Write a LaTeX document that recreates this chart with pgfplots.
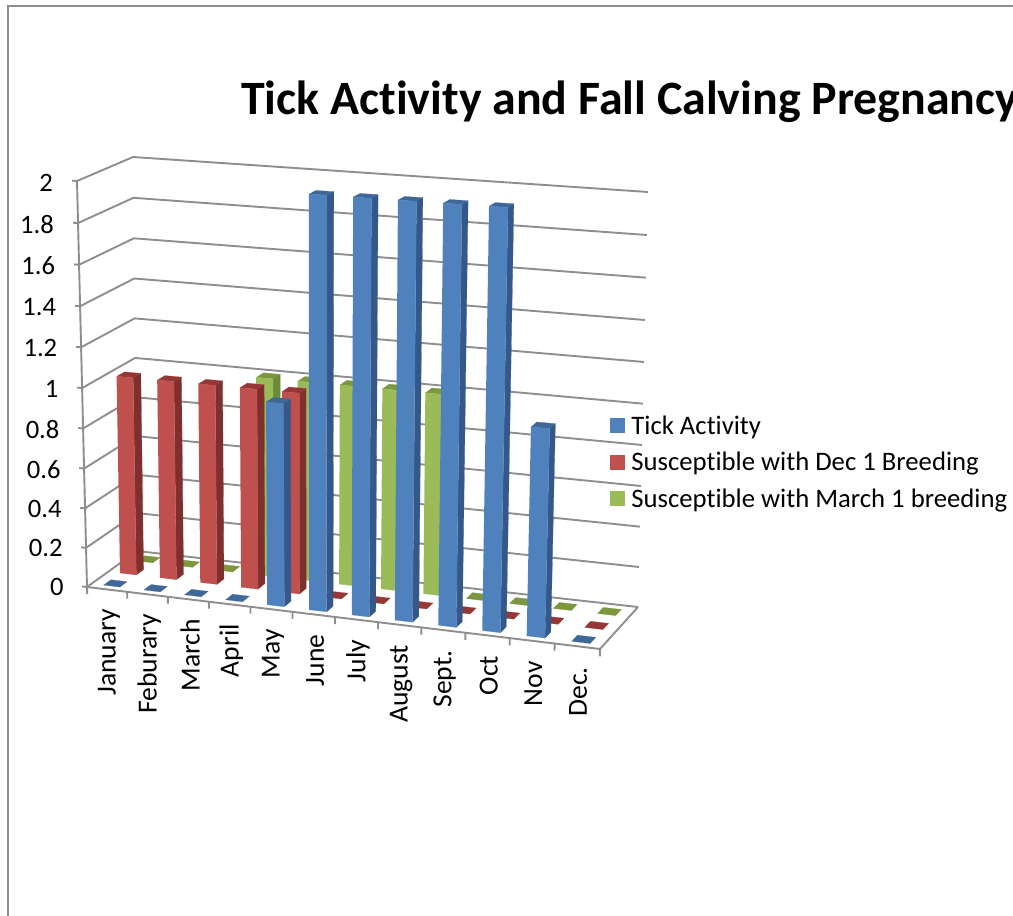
\documentclass[border=0pt]{standalone}
\usepackage{pgfplots}
\usepackage{pgfplotstable}
\usepackage{fontspec}
\setmainfont[Ligatures=CommonOff]{Carlito}
\pgfplotsset{compat=1.18}

\definecolor{gridc}{HTML}{8E8E8E}
\definecolor{blueF}{HTML}{4F81BD}
\definecolor{blueS}{HTML}{34588A}
\definecolor{blueT}{HTML}{3F6797}
\definecolor{redF}{HTML}{C0504D}
\definecolor{redS}{HTML}{7F302E}
\definecolor{redT}{HTML}{953735}
\definecolor{greenF}{HTML}{9BBB59}
\definecolor{greenS}{HTML}{6C8A38}
\definecolor{greenT}{HTML}{7B983F}

% values
\pgfplotstableread{
month tick dec march
January 0 1 0
Feburary 0 1 0
March 0 1 0
April 0 1 1
May 1 1 1
June 2 0 1
July 2 0 1
August 2 0 1
Sept. 2 0 0
Oct 2 0 0
Nov 1 0 0
Dec. 0 0 0
}\ticktable

% box corners in image pixels -> month (0..12), depth (0..3), value (0..2)
% the two warps stand in for the perspective of the original
\newcommand\proj[4]{%
  \pgfmathsetmacro\pu{#1/12}\pgfmathsetmacro\pv{#2/3}\pgfmathsetmacro\pw{#3/2}%
  \pgfmathsetmacro\pu{\pu+0.066*\pu*(\pu-1)}%
  \pgfmathsetmacro\pw{\pw+0.04*\pw*(\pw-1)}%
  \pgfmathsetmacro\fx{(1-\pv)*((1-\pu)*87+\pu*600)+\pv*((1-\pu)*137+\pu*638)}%
  \pgfmathsetmacro\fy{(1-\pv)*((1-\pu)*587+\pu*649)+\pv*((1-\pu)*551+\pu*607)}%
  \pgfmathsetmacro\tx{(1-\pv)*((1-\pu)*77+\pu*612)+\pv*((1-\pu)*133+\pu*648)}%
  \pgfmathsetmacro\ty{(1-\pv)*((1-\pu)*181+\pu*217)+\pv*((1-\pu)*157+\pu*192)}%
  \pgfmathsetmacro\rx{(1-\pw)*\fx+\pw*\tx}%
  \pgfmathsetmacro\ry{(1-\pw)*\fy+\pw*\ty}%
  \expandafter\xdef\csname #4\endcsname{(\rx,\ry)}%
}
\newcommand\poly[2]{% colour, coordinates
  \edef\tmp{\noexpand\addplot[fill=#1,draw=#1,line width=.2pt,forget plot] coordinates {#2};}\tmp
}
\newcommand\gline[2]{% coordinates, width
  \edef\tmp{\noexpand\addplot[gridc,line width=#2,forget plot] coordinates {#1};}\tmp
}
\newcommand\drawbar[6]{% month, depth, value, front, side, top
  \pgfmathsetmacro\xa{#1+0.295}\pgfmathsetmacro\xb{#1+0.705}%
  \pgfmathsetmacro\ya{#2-0.22}\pgfmathsetmacro\yb{#2+0.22}%
  \proj{\xa}{\ya}{#3}{Aa}\proj{\xb}{\ya}{#3}{Ba}\proj{\xb}{\yb}{#3}{Ca}\proj{\xa}{\yb}{#3}{Da}%
  \ifdim#3pt>0pt
    \proj{\xa}{\ya}{0}{Ao}\proj{\xb}{\ya}{0}{Bo}\proj{\xb}{\yb}{0}{Co}%
    \poly{#5}{\Bo\Co\Ca\Ba}%
    \poly{#6}{\Aa\Ba\Ca\Da}%
    \poly{#4}{\Ao\Bo\Ba\Aa}%
  \else
    \poly{#6}{\Aa\Ba\Ca\Da}%
  \fi
}
\newcommand\drawseries[5]{% column, depth, front, side, top
  \pgfplotsinvokeforeach{0,...,11}{%
    \pgfplotstablegetelem{##1}{#1}\of\ticktable
    \let\barval\pgfplotsretval
    \drawbar{##1}{#2}{\barval}{#3}{#4}{#5}%
  }%
}

\begin{document}
\begin{tikzpicture}[x=1pt,y=1pt]
\useasboundingbox (0,0) rectangle (1013,916);
\clip (0,0) rectangle (1013,916);
\begin{axis}[
  at={(0,0)},anchor=south west,
  scale only axis,width=1013pt,height=916pt,
  xmin=0,xmax=1013,ymin=0,ymax=916,y dir=reverse,
  hide axis,clip=false,
  legend style={at={(axis cs:607,412.5)},anchor=north west,draw=none,fill=none,
    font=\fontsize{26.7}{30}\selectfont,row sep=14.5pt,
    nodes={inner xsep=3pt,inner ysep=1pt}},
  legend cell align=left,
  legend image code/.code={\path[#1,draw=none] (0pt,-7.5pt) rectangle (15pt,7.5pt);\path (18pt,0pt);},
]
% frame of the chart area
\addplot[gridc,line width=2pt,forget plot] coordinates {(7.5,916) (7.5,5.5) (1013,5.5)};

% back wall and left wall lines, value ticks with their labels
\pgfplotsinvokeforeach{0,0.2,0.4,0.6,0.8,1,1.2,1.4,1.6,1.8,2}{%
  \proj{-0.12}{0}{#1}{Pa}\proj{0}{0}{#1}{Pb}\proj{0}{3}{#1}{Pc}\proj{12}{3}{#1}{Pd}%
  \gline{\Pa\Pb\Pc\Pd}{1.9pt}%
  \proj{-0.58}{0}{#1}{Pl}%
  \pgfmathsetmacro\ly{\ry+3}%
  \edef\tmp{\noexpand\node[anchor=east,font=\noexpand\fontsize{26.6}{30}\noexpand\selectfont,inner sep=0pt] at (axis cs:\rx,\ly) {#1};}\tmp
}
% left edge, floor edges
\proj{0}{0}{0}{Qa}\proj{0}{0}{2}{Qb}\gline{\Qa\Qb}{1.9pt}
\proj{12}{0}{0}{Qc}\proj{12}{3}{0}{Qd}\gline{\Qa\Qc\Qd}{1.9pt}

% month ticks and labels
\pgfplotsinvokeforeach{0,...,12}{%
  \proj{#1}{0}{0}{Ta}\proj{#1}{0}{-0.035}{Tb}\gline{\Ta\Tb}{1.9pt}%
}
\pgfplotsinvokeforeach{0,...,11}{%
  \pgfplotstablegetelem{#1}{month}\of\ticktable
  \let\mname\pgfplotsretval
  \pgfmathsetmacro\mx{#1+0.5}%
  \proj{\mx}{0}{-0.1}{Tl}%
  \pgfmathsetmacro\lx{\rx+1.5}%
  \edef\tmp{\noexpand\node[rotate=90,anchor=east,font=\noexpand\fontsize{27.6}{30}\noexpand\selectfont,inner sep=0pt] at (axis cs:\lx,\ry) {\mname};}\tmp
}

% bars, back row first
\drawseries{march}{2.5}{greenF}{greenS}{greenT}
\drawseries{dec}{1.5}{redF}{redS}{redT}
\drawseries{tick}{0.5}{blueF}{blueS}{blueT}

\node[anchor=base west,inner sep=0pt,font=\fontsize{47.9}{50}\selectfont\bfseries] at (axis cs:241,114) {Tick Activity and Fall Calving Pregnancy};

\addlegendimage{fill=blueF}\addlegendentry{Tick Activity}
\addlegendimage{fill=redF}\addlegendentry{Susceptible with Dec 1 Breeding}
\addlegendimage{fill=greenF}\addlegendentry{Susceptible with March 1 breeding}
\end{axis}
\end{tikzpicture}
\end{document}
